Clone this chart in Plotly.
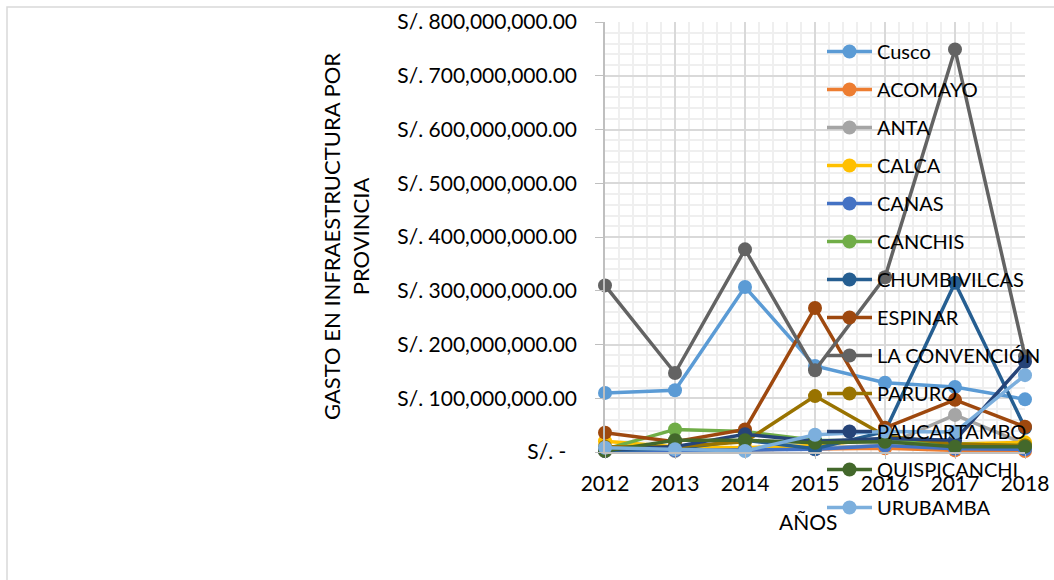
import plotly.graph_objects as go

# Infrastructure spending per province (soles), 2012-2018
years = [2012, 2013, 2014, 2015, 2016, 2017, 2018]

cusco = [110e6, 115e6, 307e6, 160e6, 129e6, 121e6, 98e6]
acomayo = [2e6, 3e6, 4e6, 5e6, 7e6, 3e6, 2e6]
anta = [3e6, 2e6, 3e6, 8e6, 12e6, 69e6, 15e6]
calca = [20e6, 10e6, 8e6, 12e6, 25e6, 15e6, 18e6]
canas = [2e6, 3e6, 5e6, 5e6, 12e6, 6e6, 5e6]
canchis = [5e6, 42e6, 38e6, 22e6, 20e6, 15e6, 12e6]
chumbivilcas = [3e6, 6e6, 22e6, 6e6, 38e6, 315e6, 45e6]
espinar = [36e6, 19e6, 42e6, 268e6, 45e6, 97e6, 47e6]
la_convencion = [310e6, 147e6, 377e6, 152e6, 325e6, 749e6, 178e6]
paruro = [10e6, 10e6, 19e6, 104e6, 30e6, 15e6, 12e6]
paucartambo = [4e6, 10e6, 33e6, 20e6, 25e6, 22e6, 168e6]
quispicanchi = [2e6, 22e6, 22e6, 17e6, 19e6, 10e6, 10e6]
urubamba = [8e6, 5e6, 2e6, 32e6, 38e6, 37e6, 143e6]

series_names = ["Cusco", "ACOMAYO", "ANTA", "CALCA", "CANAS", "CANCHIS",
                "CHUMBIVILCAS", "ESPINAR", "LA CONVENCIÓN", "PARURO",
                "PAUCARTAMBO", "QUISPICANCHI", "URUBAMBA"]
series_values = [cusco, acomayo, anta, calca, canas, canchis, chumbivilcas,
                 espinar, la_convencion, paruro, paucartambo, quispicanchi,
                 urubamba]
series_colors = ["#5B9BD5", "#ED7D31", "#A5A5A5", "#FFC000", "#4472C4",
                 "#70AD47", "#255E91", "#9E480E", "#636363", "#997300",
                 "#264478", "#43682B", "#7CAFDD"]

y_tick_values = [0, 100e6, 200e6, 300e6, 400e6, 500e6, 600e6, 700e6, 800e6]
y_tick_labels = ["S/. -\u00a0\u00a0", "S/. 100,000,000.00", "S/. 200,000,000.00",
                 "S/. 300,000,000.00", "S/. 400,000,000.00", "S/. 500,000,000.00",
                 "S/. 600,000,000.00", "S/. 700,000,000.00", "S/. 800,000,000.00"]

FONT = "Lato, 'Open Sans', sans-serif"
W, H = 1054, 580
L, R, T, B = 605, 29, 22, 128
pw, ph = W - L - R, H - T - B

fig = go.Figure()
for name, vals, col in zip(series_names, series_values, series_colors):
    fig.add_trace(go.Scatter(
        x=years, y=vals, name=name, legendgroup=name,
        mode="lines+markers",
        line=dict(color=col, width=3.5),
        marker=dict(color=col, size=14),
        cliponaxis=False,
    ))


def px_x(v):
    return (v - L) / pw


def px_y(v):
    return (H - B - v) / ph


# chart-area frame
fig.add_shape(type="rect", xref="paper", yref="paper",
              x0=px_x(7), x1=px_x(1070), y0=px_y(7), y1=px_y(600),
              line=dict(color="#D9D9D9", width=1.5), layer="below")

fig.add_annotation(
    text="GASTO EN INFRAESTRUCTURA POR<br>PROVINCIA",
    xref="paper", yref="paper", x=px_x(346), y=px_y(237),
    xanchor="center", yanchor="middle",
    textangle=-90, showarrow=False, align="center",
    font=dict(family=FONT, size=22, color="#000000"),
)
fig.add_annotation(
    text="AÑOS", xref="paper", yref="paper", x=px_x(808), y=px_y(521),
    xanchor="center", yanchor="middle",
    showarrow=False, font=dict(family=FONT, size=21, color="#000000"),
)

fig.update_layout(
    width=W, height=H,
    margin=dict(l=L, r=R, t=T, b=B, autoexpand=False),
    paper_bgcolor="white", plot_bgcolor="white",
    font=dict(family=FONT, size=20, color="#000000"),
    showlegend=True,
    legend=dict(
        x=px_x(822), y=px_y(32), xanchor="left", yanchor="top",
        bgcolor="rgba(0,0,0,0)", borderwidth=0,
        font=dict(family=FONT, size=20, color="#000000"),
        itemwidth=45, tracegroupgap=9, traceorder="grouped",
        maxheight=600,
    ),
    xaxis=dict(
        range=[2012, 2018], tickmode="array", tickvals=years,
        ticktext=[str(y) for y in years],
        tickfont=dict(family=FONT, size=21, color="#000000"),
        showgrid=True, gridcolor="#D9D9D9", gridwidth=1.5,
        minor=dict(dtick=0.2, tick0=2012, showgrid=True,
                   gridcolor="#EFEFEF", gridwidth=1.5),
        showline=True, linecolor="#BFBFBF", linewidth=1.5,
        ticks="outside", ticklen=5, tickcolor="#BFBFBF",
        ticklabelstandoff=7,
        zeroline=False, fixedrange=True,
    ),
    yaxis=dict(
        range=[0, 800e6], tickmode="array", tickvals=y_tick_values,
        ticktext=y_tick_labels,
        tickfont=dict(family=FONT, size=21, color="#000000"),
        showgrid=True, gridcolor="#D9D9D9", gridwidth=1.5,
        minor=dict(dtick=20e6, tick0=0, showgrid=True,
                   gridcolor="#EFEFEF", gridwidth=1.5),
        showline=True, linecolor="#BFBFBF", linewidth=1.5,
        ticks="outside", ticklen=8, tickcolor="#BFBFBF",
        ticklabelstandoff=14,
        zeroline=False, fixedrange=True,
    ),
)

fig.write_html("out.html")
